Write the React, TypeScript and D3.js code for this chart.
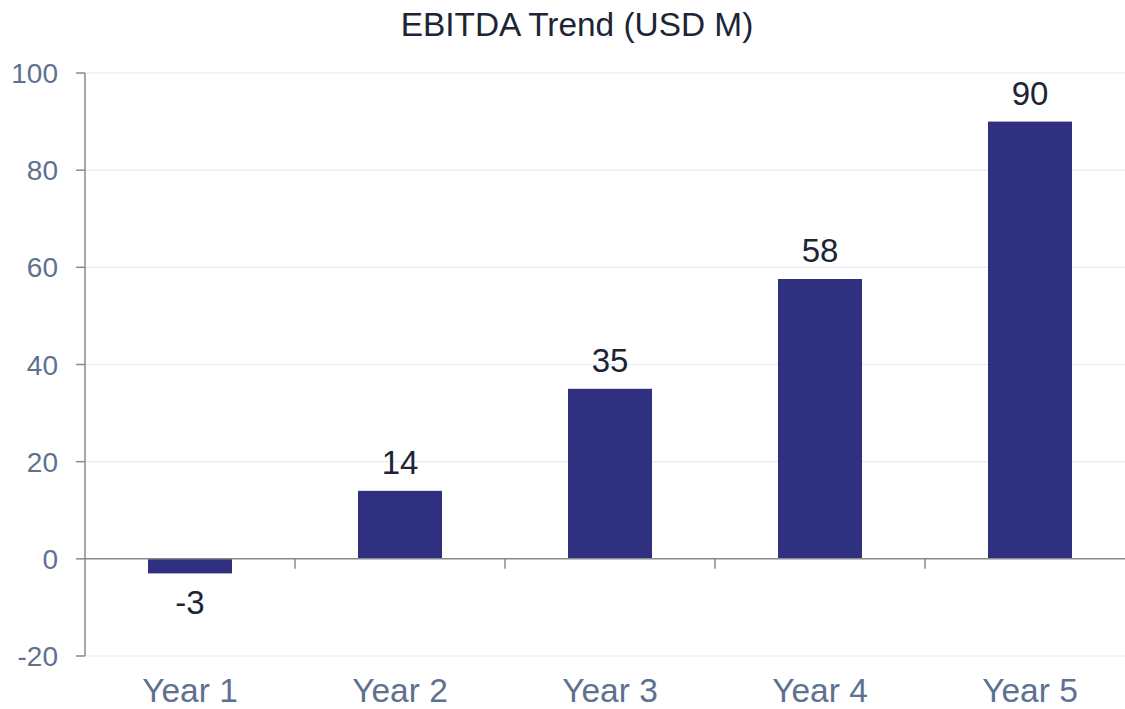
import React from "react";
import * as d3 from "d3";

const categories = ["Year 1", "Year 2", "Year 3", "Year 4", "Year 5"];
const ebitda = [-3, 14, 35, 57.6, 90];
const yTicks = [-20, 0, 20, 40, 60, 80, 100];
const title = "EBITDA Trend (USD M)";

const W = 1125;
const H = 709;
const FONT = "'Liberation Sans', Arial, sans-serif";

export default function App() {
  const x = d3
    .scaleBand<string>()
    .domain(categories)
    .range([85, 1135])
    .paddingInner(0.6)
    .paddingOuter(0.3);
  const y = d3.scaleLinear().domain([-20, 100]).range([656, 73]);
  const locale = d3.formatLocale({ decimal: ".", thousands: ",", grouping: [3], currency: ["$", ""], minus: "-" });
  const fmt = locale.format(".0f");
  const step = x.step();
  const boundaries = categories.slice(1).map((c) => (x(c) as number) - x.paddingOuter() * step);

  return (
    <svg
      width={W}
      height={H}
      style={{ position: "absolute", left: 0, top: 0, background: "#fff" }}
      fontFamily={FONT}
    >
      <text x={577} y={36} textAnchor="middle" fontSize={33.4} fill="#1c2536">
        {title}
      </text>
      {yTicks.map((t) => (
        <g key={t}>
          {t !== 0 && (
            <line x1={85} x2={W} y1={y(t)} y2={y(t)} stroke="#e6ebf2" strokeWidth={1.2} />
          )}
          <line x1={76} x2={85} y1={y(t)} y2={y(t)} stroke="#8a8a8a" strokeWidth={1.5} />
          <text
            x={58}
            y={y(t)}
            dy="0.36em"
            textAnchor="end"
            fontSize={28}
            fill="#5e7190"
          >
            {fmt(t)}
          </text>
        </g>
      ))}
      {categories.map((c, i) => {
        const v = ebitda[i];
        const bx = x(c) as number;
        const top = v >= 0 ? y(v) : y(0);
        const h = Math.abs(y(v) - y(0));
        return (
          <g key={c}>
            <rect x={bx} y={top} width={x.bandwidth()} height={h} fill="#303080" />
            <text
              x={bx + x.bandwidth() / 2}
              y={v >= 0 ? y(v) - 17 : y(v) + 41}
              textAnchor="middle"
              fontSize={33}
              fill="#1c2536"
            >
              {fmt(v)}
            </text>
            <text
              x={bx + x.bandwidth() / 2}
              y={702}
              textAnchor="middle"
              fontSize={33.5}
              fill="#5e7190"
            >
              {c}
            </text>
          </g>
        );
      })}
      <line x1={85} x2={W} y1={y(0)} y2={y(0)} stroke="#8a8a8a" strokeWidth={1.5} />
      {boundaries.map((bx, i) => (
        <line key={i} x1={bx} x2={bx} y1={y(0)} y2={y(0) + 10} stroke="#8a8a8a" strokeWidth={1.5} />
      ))}
      <line x1={85} x2={85} y1={y(100)} y2={y(-20)} stroke="#8a8a8a" strokeWidth={1.5} />
    </svg>
  );
}
